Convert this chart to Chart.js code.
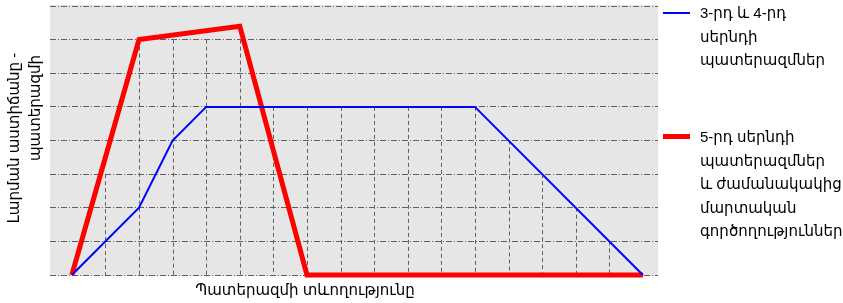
<!DOCTYPE html>
<html lang="hy">
<head>
<meta charset="UTF-8">
<title>Պատերազմի տևողությունը</title>
<script src="https://cdn.jsdelivr.net/npm/chart.js"></script>
<style>
    body {
        margin: 0;
        background: #fff;
        font-family: 'Liberation Sans', 'DejaVu Sans', sans-serif;
    }
    .wrap {
        position: relative;
        width: 843px;
        height: 303px;
    }
    #legend {
        position: absolute;
        left: 663px;
        top: 0;
        width: 180px;
        font-size: 15px;
        color: #000;
    }
    .item {
        position: absolute;
        left: 0;
    }
    .mark {
        position: absolute;
        left: 0;
        width: 27px;
    }
    .txt {
        position: absolute;
        left: 37px;
        line-height: 23.5px;
        white-space: nowrap;
    }
</style>
</head>
<body>
<div class="wrap">
    <canvas id="chart" width="843" height="303"></canvas>
    <div id="legend"></div>
</div>

<script>
// data (x = step along the war, y = level)
const blueX = [0, 2, 3, 4, 12, 17];
const blueY = [0, 2, 4, 5, 5, 0];
const redX = [0, 2, 5, 7, 17];
const redY = [0, 7, 7.4, 0, 0];

const blueLabel = ['3-րդ և 4-րդ', 'սերնդի', 'պատերազմներ'];
const redLabel = ['5-րդ սերնդի', 'պատերազմներ', 'և ժամանակակից', 'մարտական', 'գործողություններ'];
const xTitle = 'Պատերազմի տևողությունը';
const yTitle = ['Լարման աստիճանը -', 'պատերազմի'];

const FONT = "'Liberation Sans', 'DejaVu Sans', sans-serif";

function pts(xs, ys) {
    return xs.map((x, i) => ({ x: x, y: ys[i] }));
}

// value of a polyline at x
function valueAt(data, x) {
    for (let i = 0; i < data.length - 1; i++) {
        const a = data[i], b = data[i + 1];
        if (x >= a.x && x <= b.x) {
            return a.y + (b.y - a.y) * (x - a.x) / (b.x - a.x);
        }
    }
    return 0;
}

// gray plot area, dashed verticals dropping from the curves, axis titles
const backdrop = {
    id: 'backdrop',
    beforeDraw(chart) {
        const a = chart.chartArea, c = chart.ctx;
        c.save();
        c.fillStyle = '#e6e6e6';
        c.fillRect(a.left, a.top - 1, a.right - a.left, a.bottom - a.top + 2);
        c.restore();
    },
    beforeDatasetsDraw(chart) {
        const xs = chart.scales.x, ys = chart.scales.y, c = chart.ctx;
        c.save();
        c.strokeStyle = '#606060';
        c.lineWidth = 1;
        c.setLineDash([4, 3]);
        for (let i = 0; i <= 17; i++) {
            let top = 0;
            chart.data.datasets.forEach(ds => {
                top = Math.max(top, valueAt(ds.data, i));
            });
            top = Math.floor(top + 1e-6);
            if (top <= 0) continue;
            const px = Math.round(xs.getPixelForValue(i)) + 0.5;
            c.beginPath();
            c.moveTo(px, ys.getPixelForValue(top));
            c.lineTo(px, ys.getPixelForValue(0));
            c.stroke();
        }
        c.restore();
    },
    afterDraw(chart) {
        const a = chart.chartArea, c = chart.ctx;
        c.save();
        c.fillStyle = '#000';
        c.font = '15px ' + FONT;
        c.textAlign = 'center';
        c.textBaseline = 'middle';
        c.fillText(xTitle, a.left + 255, 291);
        // y title, rotated
        c.translate(0, 0);
        c.save();
        c.translate(15, 138);
        c.rotate(-Math.PI / 2);
        c.fillText(yTitle[0], 0, 0);
        c.restore();
        c.save();
        c.translate(36, 108);
        c.rotate(-Math.PI / 2);
        c.fillText(yTitle[1], 0, 0);
        c.restore();
        c.restore();
    }
};

const ctx = document.getElementById('chart').getContext('2d');
const chart = new Chart(ctx, {
    type: 'line',
    data: {
        datasets: [{
            label: blueLabel,
            data: pts(blueX, blueY),
            borderColor: '#0000ff',
            backgroundColor: '#0000ff',
            borderWidth: 2,
            pointRadius: 0,
            tension: 0,
            clip: false
        }, {
            label: redLabel,
            data: pts(redX, redY),
            borderColor: '#ff0000',
            backgroundColor: '#ff0000',
            borderWidth: 5,
            pointRadius: 0,
            tension: 0,
            clip: false,
            borderJoinStyle: 'miter'
        }]
    },
    options: {
        responsive: false,
        animation: false,
        layout: { padding: { top: 6, right: 185, left: 0, bottom: 0 } },
        plugins: {
            legend: { display: false },
            tooltip: { enabled: false }
        },
        scales: {
            x: {
                type: 'linear',
                min: -0.65,
                max: 17.45,
                ticks: { display: false },
                grid: { display: false, drawTicks: false },
                border: { display: false },
                afterFit(s) { s.height = 28; }
            },
            y: {
                min: 0,
                max: 8,
                ticks: { display: false, stepSize: 1 },
                grid: { color: '#606060', lineWidth: 1, drawTicks: false },
                border: { display: false, dash: [6, 2, 1, 2] },
                afterFit(s) { s.width = 50; }
            }
        }
    },
    plugins: [backdrop]
});

// legend next to the plot
const legend = document.getElementById('legend');
const tops = [1, 125];
chart.data.datasets.forEach((ds, i) => {
    const item = document.createElement('div');
    item.className = 'item';
    item.style.top = tops[i] + 'px';
    const mark = document.createElement('div');
    mark.className = 'mark';
    mark.style.height = ds.borderWidth + 'px';
    mark.style.top = (11.75 - ds.borderWidth / 2) + 'px';
    mark.style.background = ds.borderColor;
    const txt = document.createElement('div');
    txt.className = 'txt';
    txt.innerHTML = ds.label.join('<br>');
    item.appendChild(mark);
    item.appendChild(txt);
    legend.appendChild(item);
});
</script>
</body>
</html>
